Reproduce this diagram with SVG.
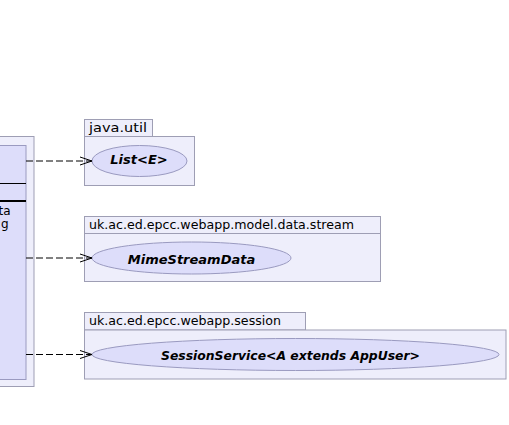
<svg xmlns="http://www.w3.org/2000/svg" width="509" height="425" viewBox="0 0 509 425">
<style>
.pkg{fill:#EEEEFB;stroke:#9E9EB4;stroke-width:1}
.cls{fill:#DDDDFA;stroke:#9A9AC0;stroke-width:1}
.ell{fill:#DDDDFA;stroke:#9A9AC0;stroke-width:1}
.pname{font-family:"DejaVu Sans",sans-serif;font-size:13px;fill:#000}
.lbl{font-family:"DejaVu Sans",sans-serif;font-size:13px;font-weight:bold;font-style:italic;fill:#000}
.txt{font-family:"DejaVu Sans",sans-serif;font-size:12px;fill:#000}
.dep{stroke:#000;stroke-width:1;fill:none;stroke-dasharray:7,3}
.head{stroke:#000;stroke-width:1;fill:none}
</style>
<rect width="509" height="425" fill="#FFFFFF"/>
<g id="leftPackage">
<rect class="pkg" x="-10" y="136.5" width="44" height="250"/>
<g id="leftClass">
<rect class="cls" x="-10" y="145.5" width="36" height="234"/>
<line x1="-10" y1="183.5" x2="26" y2="183.5" stroke="#000" stroke-width="1"/>
<line x1="-10" y1="201" x2="26" y2="201" stroke="#000" stroke-width="2"/>
<text class="txt" x="10.5" y="215" text-anchor="end">ta</text>
<text class="txt" x="8.5" y="227.5" text-anchor="end">g</text>
</g>
</g>
<g id="pkg-java-util">
<rect class="pkg" x="84.5" y="119.5" width="68" height="17"/>
<rect class="pkg" x="84.5" y="136.5" width="110" height="49"/>
<text class="pname" x="89" y="132" textLength="58" lengthAdjust="spacingAndGlyphs">java.util</text>
<g id="List">
<ellipse class="ell" cx="139.5" cy="161" rx="47.5" ry="15.5"/>
<text class="lbl" x="139" y="164" text-anchor="middle">List&lt;E&gt;</text>
</g>
</g>
<g id="pkg-stream">
<rect class="pkg" x="84.5" y="216.5" width="296" height="17"/>
<rect class="pkg" x="84.5" y="233.5" width="296" height="48"/>
<text class="pname" x="89" y="229" textLength="265" lengthAdjust="spacingAndGlyphs">uk.ac.ed.epcc.webapp.model.data.stream</text>
<g id="MimeStreamData">
<ellipse class="ell" cx="191.5" cy="258" rx="99.5" ry="16"/>
<text class="lbl" x="191.5" y="264" text-anchor="middle">MimeStreamData</text>
</g>
</g>
<g id="pkg-session">
<rect class="pkg" x="84.5" y="312.5" width="221" height="17.5"/>
<rect class="pkg" x="84.5" y="330" width="421.5" height="49"/>
<text class="pname" x="89" y="325" textLength="192" lengthAdjust="spacingAndGlyphs">uk.ac.ed.epcc.webapp.session</text>
<g id="SessionService">
<ellipse class="ell" cx="295.5" cy="354.5" rx="203.5" ry="16"/>
<text class="lbl" x="161" y="360" textLength="259" lengthAdjust="spacingAndGlyphs">SessionService&lt;A extends AppUser&gt;</text>
</g>
</g>
<g id="connectors">
<line class="dep" x1="26" y1="161" x2="92" y2="161"/>
<polyline class="head" points="80,157 92,161 80,165"/>
<line class="dep" x1="26" y1="258" x2="92" y2="258"/>
<polyline class="head" points="80,254 92,258 80,262"/>
<line class="dep" x1="26" y1="354.5" x2="92" y2="354.5"/>
<polyline class="head" points="80,350.5 92,354.5 80,358.5"/>
</g>
</svg>
